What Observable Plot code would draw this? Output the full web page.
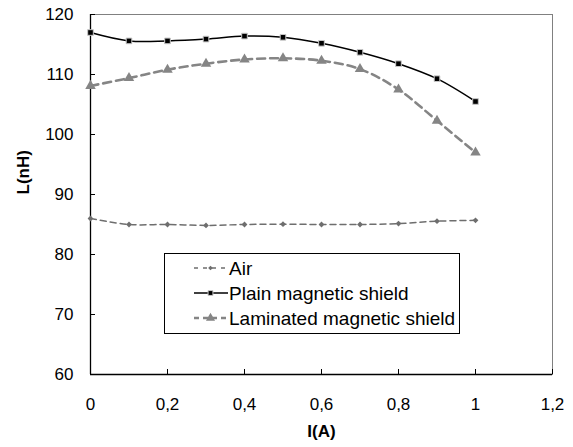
<!DOCTYPE html>
<html>
<head>
<meta charset="utf-8">
<script src="https://cdn.jsdelivr.net/npm/d3@7"></script>
<script src="https://cdn.jsdelivr.net/npm/@observablehq/plot@0.6"></script>
<style>
  body { margin: 0; background: #fff; }
  #chart svg { font-family: "Liberation Sans", Arial, sans-serif; }
</style>
</head>
<body>
<div id="chart"></div>
<script>
const currents = [0, 0.1, 0.2, 0.3, 0.4, 0.5, 0.6, 0.7, 0.8, 0.9, 1.0];
const air = [86.0, 85.0, 85.0, 84.85, 85.0, 85.05, 85.0, 85.0, 85.15, 85.55, 85.7];
const plain = [117.0, 115.6, 115.6, 115.9, 116.4, 116.2, 115.2, 113.7, 111.8, 109.3, 105.5];
const laminated = [108.1, 109.4, 110.8, 111.8, 112.5, 112.7, 112.3, 110.9, 107.5, 102.3, 97.0];
const xTicks = [0, 0.2, 0.4, 0.6, 0.8, 1.0, 1.2];
const yTicks = [60, 70, 80, 90, 100, 110, 120];
const seriesNames = ["Air", "Plain magnetic shield", "Laminated magnetic shield"];

const rows = (vals) => currents.map((x, i) => ({x, y: vals[i]}));
const airRows = rows(air), plainRows = rows(plain), lamRows = rows(laminated);
const fmt = d => String(d).replace(".", ",");

const chart = Plot.plot({
  width: 573,
  height: 447,
  marginLeft: 90,
  marginRight: 21,
  marginTop: 14,
  marginBottom: 73,
  style: {fontFamily: "Liberation Sans, Arial, sans-serif", fontSize: "17px", color: "#000", background: "#fff"},
  x: {domain: [0, 1.2]},
  y: {domain: [60, 120]},
  marks: [
    Plot.frame({stroke: "#808080", strokeWidth: 1}),
    Plot.ruleX([0], {stroke: "#000", strokeWidth: 1.3}),
    Plot.ruleY([60], {stroke: "#000", strokeWidth: 1.3}),
    Plot.ruleX(xTicks, {y1: 60, y2: 60 + 5/6, stroke: "#000"}),
    Plot.ruleY(yTicks, {x1: 0, x2: 1.2 * 5 / 462, stroke: "#000"}),
    Plot.axisX(xTicks, {tickSize: 0, tickPadding: 23, tickFormat: fmt, fontSize: 17, label: null}),
    Plot.axisY(yTicks, {tickSize: 0, tickPadding: 17, fontSize: 17, label: null}),
    Plot.text(["I(A)"], {frameAnchor: "bottom", dy: 62.5, fontWeight: "bold", fontSize: 17}),
    Plot.text(["L(nH)"], {frameAnchor: "left", dx: -67, rotate: -90, fontWeight: "bold", fontSize: 17}),
    Plot.line(airRows, {x: "x", y: "y", stroke: "#6e6e6e", strokeWidth: 1.5, strokeDasharray: "6,4", curve: "catmull-rom"}),
    Plot.dot(airRows, {x: "x", y: "y", symbol: "diamond2", r: 2.6, fill: "#6e6e6e", stroke: "none"}),
    Plot.line(lamRows, {x: "x", y: "y", stroke: "#858585", strokeWidth: 2.6, strokeDasharray: "8,5", curve: "catmull-rom"}),
    Plot.dot(lamRows, {x: "x", y: "y", symbol: "triangle2", r: 5, fill: "#858585", stroke: "none"}),
    Plot.line(plainRows, {x: "x", y: "y", stroke: "#000", strokeWidth: 1.5, curve: "catmull-rom"}),
    Plot.dot(plainRows, {x: "x", y: "y", symbol: "square2", r: 3.6, fill: "#000", stroke: "#c8c8c8", strokeWidth: 1})
  ]
});
document.getElementById("chart").appendChild(chart);

// Legend inside the plot area
const svg = d3.select(chart);
const lg = svg.append("g").attr("font-family", "Liberation Sans, Arial, sans-serif").attr("text-anchor", "start");
lg.append("rect").attr("x", 164.5).attr("y", 253.5).attr("width", 295).attr("height", 80)
  .attr("fill", "#fff").attr("stroke", "#000").attr("stroke-width", 1);
const legendStyles = [
  {stroke: "#6e6e6e", w: 1.5, dash: "4,5", sym: d3.symbolDiamond2, size: 14, fill: "#6e6e6e"},
  {stroke: "#000", w: 1.5, dash: null, sym: d3.symbolSquare2, size: 30, fill: "#000"},
  {stroke: "#858585", w: 2.5, dash: "5,4", sym: d3.symbolTriangle2, size: 60, fill: "#858585"}
];
seriesNames.forEach((name, i) => {
  const cy = 268 + i * 25;
  const s = legendStyles[i];
  const l = lg.append("line").attr("x1", 194).attr("x2", 228).attr("y1", cy).attr("y2", cy)
    .attr("stroke", s.stroke).attr("stroke-width", s.w);
  if (s.dash) l.attr("stroke-dasharray", s.dash);
  lg.append("path").attr("d", d3.symbol(s.sym, s.size)()).attr("transform", `translate(210.5,${cy})`)
    .attr("fill", s.fill).attr("stroke", i === 1 ? "#c8c8c8" : "none");
  lg.append("text").attr("x", 229).attr("y", cy).attr("dy", "0.35em").attr("font-size", 19)
    .attr("fill", "#000").text(name);
});
</script>
</body>
</html>
